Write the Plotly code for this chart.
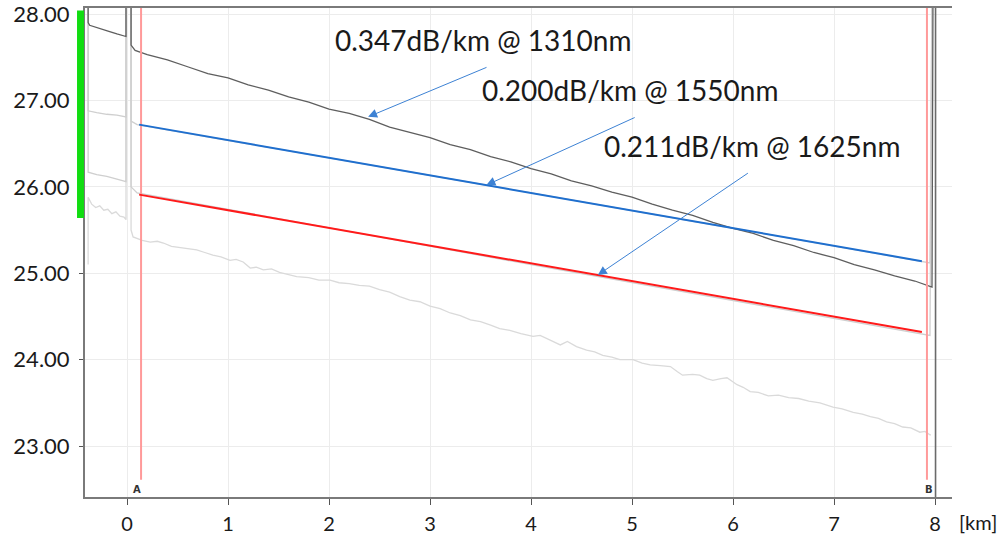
import plotly.graph_objects as go

# ---------------- data ----------------
TOP = 28.3  # trace spikes run past the top of the view

# 1310 nm raw trace (dark)
x1310 = [-0.385, -0.385, -0.37, -0.32, -0.25, -0.18, -0.10, -0.04, -0.01, -0.01, 0.04, 0.04, 0.08,
         0.2, 0.4, 0.6, 0.8, 1.0, 1.2, 1.4, 1.6, 1.8, 2.0, 2.2, 2.4, 2.6, 2.8, 3.0, 3.2, 3.4, 3.6,
         3.8, 4.0, 4.2, 4.4, 4.6, 4.8, 5.0, 5.2, 5.4, 5.6, 5.8, 6.0, 6.2, 6.4, 6.6, 6.8, 7.0, 7.2,
         7.4, 7.6, 7.8, 7.97, 7.98]
y1310 = [TOP, 27.90, 27.87, 27.85, 27.82, 27.80, 27.77, 27.75, 27.74, TOP, TOP, 27.64, 27.58,
         27.53, 27.47, 27.39, 27.31, 27.26, 27.18, 27.12, 27.04, 26.98, 26.90, 26.85, 26.78, 26.69,
         26.63, 26.57, 26.49, 26.43, 26.35, 26.29, 26.21, 26.15, 26.07, 26.01, 25.94, 25.88, 25.80,
         25.73, 25.67, 25.59, 25.52, 25.46, 25.38, 25.32, 25.24, 25.18, 25.10, 25.04, 24.97, 24.91,
         24.84, TOP]

# 1550 nm raw trace (light)
x1550 = [-0.385, -0.385, -0.30, -0.20, -0.10, -0.01, -0.01, 0.04, 0.04, 0.10, 4.00, 7.95, 7.97]
y1550 = [TOP, 26.88, 26.86, 26.84, 26.83, 26.81, TOP, TOP, 26.76, 26.72, 25.93, 25.12, TOP]

# 1625 nm raw trace (light)
x1625 = [-0.385, -0.385, -0.30, -0.20, -0.10, -0.01, -0.01, 0.04, 0.04, 0.10, 4.00, 7.95, 7.97]
y1625 = [TOP, 26.17, 26.14, 26.12, 26.09, 26.06, TOP, TOP, 26.00, 25.93, 25.10, 24.28, TOP]

# fourth raw trace (lightest, noisy)
xlow = [-0.385, -0.385, -0.35, -0.31, -0.27, -0.23, -0.19, -0.15, -0.11, -0.07, -0.03, -0.01, -0.01,
        0.04, 0.04, 0.06, 0.15, 0.23, 0.30, 0.36, 0.44, 0.52, 0.60, 0.69, 0.77, 0.85, 0.93, 1.02,
        1.08, 1.15, 1.22, 1.28, 1.35, 1.43, 1.51, 1.60, 1.68, 1.80, 1.90, 2.01, 2.10, 2.20, 2.30,
        2.40, 2.50, 2.60, 2.70, 2.80, 2.90, 3.00, 3.10, 3.20, 3.30, 3.40, 3.50, 3.60, 3.69, 3.79,
        3.90, 4.02, 4.09, 4.20, 4.29, 4.36, 4.45, 4.55, 4.63, 4.71, 4.80, 4.88, 5.01, 5.10, 5.18,
        5.28, 5.38, 5.45, 5.50, 5.60, 5.67, 5.74, 5.80, 5.88, 5.94, 6.04, 6.10, 6.17, 6.25, 6.35,
        6.45, 6.55, 6.65, 6.75, 6.86, 6.99, 7.08, 7.19, 7.28, 7.36, 7.44, 7.52, 7.60, 7.68, 7.76,
        7.85, 7.90, 7.95, 7.96]
ylow = [25.10, 25.88, 25.80, 25.76, 25.78, 25.73, 25.74, 25.69, 25.71, 25.66, 25.65, 25.62, TOP,
        TOP, 25.50, 25.42, 25.38, 25.36, 25.37, 25.35, 25.31, 25.30, 25.29, 25.27, 25.24, 25.21,
        25.19, 25.15, 25.16, 25.13, 25.06, 25.07, 25.04, 25.05, 25.01, 24.98, 24.96, 24.95, 24.92,
        24.92, 24.89, 24.88, 24.86, 24.85, 24.81, 24.78, 24.73, 24.69, 24.67, 24.62, 24.59, 24.54,
        24.51, 24.46, 24.44, 24.40, 24.36, 24.34, 24.30, 24.27, 24.28, 24.22, 24.17, 24.21, 24.15,
        24.11, 24.09, 24.05, 24.03, 24.00, 24.00, 23.96, 23.94, 23.93, 23.92, 23.86, 23.82, 23.83,
        23.82, 23.78, 23.76, 23.78, 23.79, 23.71, 23.68, 23.63, 23.62, 23.58, 23.59, 23.56, 23.55,
        23.52, 23.50, 23.45, 23.43, 23.39, 23.37, 23.34, 23.32, 23.28, 23.26, 23.22, 23.21, 23.16,
        23.17, 23.13, 23.13]

# fitted section lines
fit1550_x = [0.12, 7.87]
fit1550_y = [26.72, 25.14]
fit1625_x = [0.12, 7.87]
fit1625_y = [25.91, 24.32]

# end-of-fibre reflection line
end_x = [8.005, 8.005]
end_y = [22.3, TOP]

# cursors A and B
cursor_names = ["A", "B"]
cursor_x = [0.139, 7.92]
cursor_bottom = 22.61

# annotations: label, label position, arrow tail, arrow head
labels = ["0.347dB/km @ 1310nm", "0.200dB/km @ 1550nm", "0.211dB/km @ 1625nm"]
label_x = [3.526, 4.976, 6.183]
label_y = [27.70, 27.12, 26.47]
tail_x = [3.574, 5.041, 6.162]
tail_y = [27.39, 26.81, 26.17]
head_x = [2.387, 3.558, 4.662]
head_y = [26.81, 26.02, 24.98]

x_ticks = [0, 1, 2, 3, 4, 5, 6, 7, 8]
y_ticks = [23, 24, 25, 26, 27, 28]

FONT = "Lato"

fig = go.Figure()

fig.add_trace(go.Scatter(x=xlow, y=ylow, mode="lines",
                         line=dict(color="#dadada", width=1.3), hoverinfo="skip"))
fig.add_trace(go.Scatter(x=x1625, y=y1625, mode="lines",
                         line=dict(color="#cfcfcf", width=1.3), hoverinfo="skip"))
fig.add_trace(go.Scatter(x=x1550, y=y1550, mode="lines",
                         line=dict(color="#cfcfcf", width=1.3), hoverinfo="skip"))
fig.add_trace(go.Scatter(x=end_x, y=end_y, mode="lines",
                         line=dict(color="#6a6a6a", width=1.6), hoverinfo="skip"))
fig.add_trace(go.Scatter(x=x1310, y=y1310, mode="lines",
                         line=dict(color="#5e5e5e", width=1.3), hoverinfo="skip"))

for cx in cursor_x:
    fig.add_trace(go.Scatter(x=[cx, cx], y=[cursor_bottom, TOP], mode="lines",
                             line=dict(color="#ff9a9a", width=2), hoverinfo="skip"))

fig.add_trace(go.Scatter(x=fit1550_x, y=fit1550_y, mode="lines",
                         line=dict(color="#1f6fce", width=2), hoverinfo="skip"))
fig.add_trace(go.Scatter(x=fit1625_x, y=fit1625_y, mode="lines",
                         line=dict(color="#ff1a1a", width=2), hoverinfo="skip"))

annotations = []
for t, lx, ly in zip(labels, label_x, label_y):
    annotations.append(dict(x=lx, y=ly, xref="x", yref="y", text=t, showarrow=False,
                            font=dict(family=FONT, size=28, color="#1a1a1a"),
                            xanchor="center", yanchor="middle"))
for tx, ty, hx, hy in zip(tail_x, tail_y, head_x, head_y):
    annotations.append(dict(x=hx, y=hy, xref="x", yref="y", ax=tx, ay=ty,
                            axref="x", ayref="y", text="", showarrow=True,
                            arrowhead=2, arrowsize=1.8, arrowwidth=1,
                            arrowcolor="#3d82d4", standoff=0, startstandoff=0))
for name, cx in zip(cursor_names, cursor_x):
    annotations.append(dict(x=cx - 0.045 if name == "A" else cx + 0.02, y=22.50,
                            xref="x", yref="y", text="<b>" + name + "</b>",
                            showarrow=False, font=dict(family="DejaVu Sans", size=10, color="#333333"),
                            xanchor="center", yanchor="middle"))
annotations.append(dict(x=1.03, y=-0.051, xref="paper", yref="paper", text="[km]",
                        showarrow=False, font=dict(family=FONT, size=20, color="#1a1a1a"),
                        xanchor="center", yanchor="middle"))

fig.update_layout(
    width=1007, height=538,
    margin=dict(l=85, r=55, t=8, b=41, autoexpand=False),
    paper_bgcolor="white", plot_bgcolor="white",
    showlegend=False,
    annotations=annotations,
    shapes=[dict(type="rect", xref="paper", yref="y", x0=-0.0092, x1=-0.0012,
                 y0=25.64, y1=28.04, fillcolor="#11dd11", line=dict(width=0), layer="above")],
    xaxis=dict(range=[-0.416, 8.168], tickvals=x_ticks, ticktext=[str(v) for v in x_ticks],
               automargin=False, ticklabeloverflow="allow",
               showgrid=True, gridcolor="#ececec", gridwidth=1, zeroline=False,
               showline=True, linecolor="#7a7a7a", linewidth=2, mirror=True,
               ticks="outside", ticklen=6, tickcolor="#555555", tickwidth=1,
               ticklabelstandoff=2,
               tickfont=dict(family=FONT, size=20, color="#1a1a1a")),
    yaxis=dict(range=[22.41, 28.07], tickvals=y_ticks, tickformat=".2f",
               automargin=False, ticklabeloverflow="allow",
               showgrid=True, gridcolor="#ececec", gridwidth=1, zeroline=False,
               showline=True, linecolor="#7a7a7a", linewidth=2, mirror=False,
               ticks="outside", ticklen=4, tickcolor="#555555", tickwidth=1,
               ticklabelstandoff=5,
               tickfont=dict(family=FONT, size=22, color="#1a1a1a")),
)

fig.write_html("out.html")
